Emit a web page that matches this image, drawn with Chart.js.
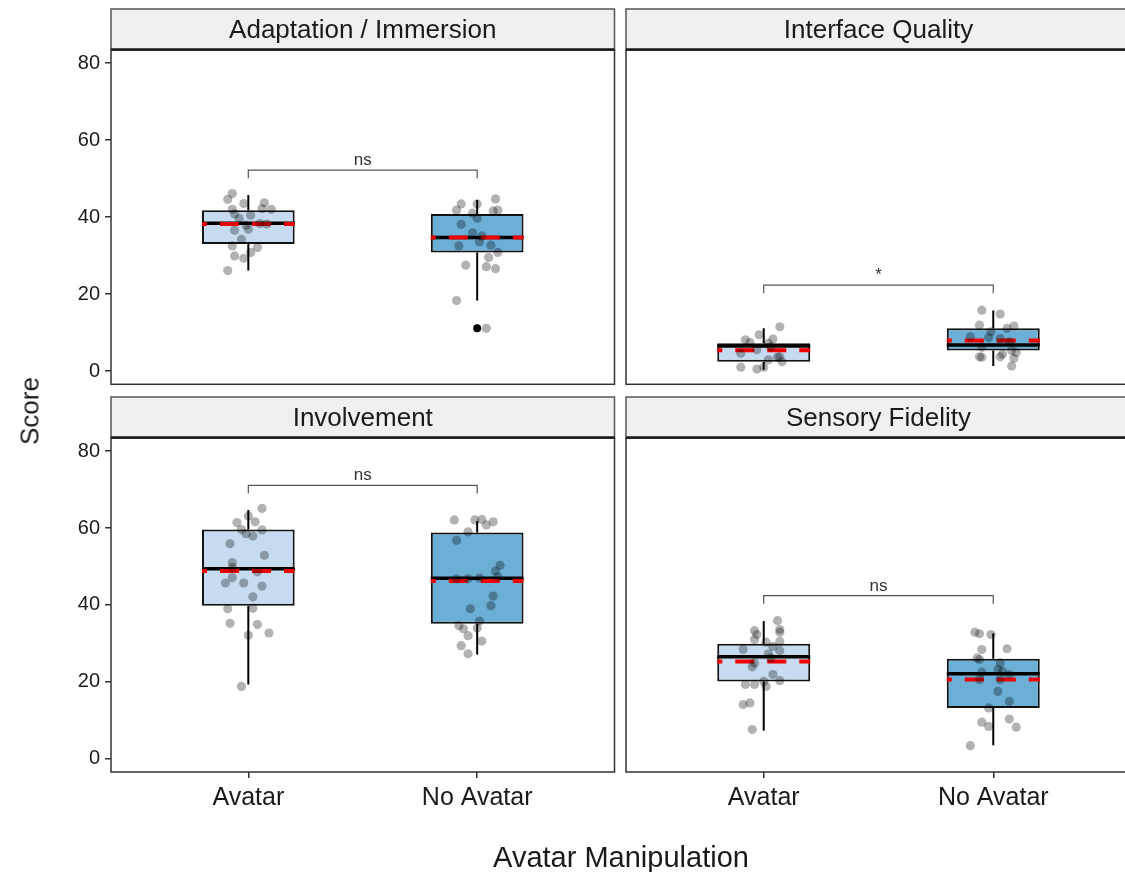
<!DOCTYPE html>
<html>
<head>
<meta charset="utf-8">
<script src="https://cdn.jsdelivr.net/npm/chart.js@4.4.1/dist/chart.umd.min.js"></script>
<style>
  html, body { margin: 0; padding: 0; background: #fff; }
  body { width: 1125px; height: 872px; overflow: hidden; position: relative; font-family: 'Liberation Sans', Arial, sans-serif; }
  canvas { position: absolute; }
  .axis-title { position: absolute; color: #1a1a1a; white-space: nowrap; }
  #ytitle { left: 30px; top: 411px; font-size: 26px; transform: translate(-50%, -50%) rotate(-90deg); }
  #xtitle { left: 621px; top: 857px; font-size: 29px; transform: translate(-50%, -50%); }
</style>
</head>
<body>
<canvas id="p0" width="620" height="390" style="left:0px;top:0px"></canvas>
<canvas id="p1" width="520" height="390" style="left:620px;top:0px"></canvas>
<canvas id="p2" width="620" height="484" style="left:0px;top:388px"></canvas>
<canvas id="p3" width="520" height="484" style="left:620px;top:388px"></canvas>
<div class="axis-title" id="ytitle">Score</div>
<div class="axis-title" id="xtitle">Avatar Manipulation</div>
<script>
const categories = ['Avatar', 'No Avatar'];
const panelTitles = ['Adaptation / Immersion', 'Interface Quality', 'Involvement', 'Sensory Fidelity'];
const yTicks = [0, 20, 40, 60, 80];

// box statistics per panel: [Avatar, No Avatar]
const whiskerLow  = [[26.1, 18.3], [0.3, 1.3], [19.3, 27.1], [7.3, 3.5]];
const quartile1   = [[33.0, 30.8], [2.4, 5.3], [39.8, 35.1], [20.1, 13.2]];
const medians     = [[38.4, 34.7], [6.5, 6.75], [49.4, 46.9], [26.5, 22.1]];
const quartile3   = [[41.8, 40.8], [7.2, 11.1], [59.6, 58.8], [29.9, 26.0]];
const whiskerHigh = [[45.7, 44.4], [11.1, 15.7], [64.7, 61.8], [35.8, 32.6]];
const means       = [[38.2, 34.7], [5.4, 7.9], [48.8, 46.2], [25.3, 20.6]];
const outliers    = [[[], [11.1]], [[], []], [[], []], [[], []]];

// significance brackets
const bracketY   = [52.2, 22.3, 71.1, 42.4];
const bracketTip = [50.1, 20.2, 69.0, 40.3];
const sigLabels  = ['ns', '*', 'ns', 'ns'];

// jittered raw scores
const adaptAvatarX = [0.93, 0.91, 0.98, 1.07, 1.06, 1.10, 0.93, 0.94, 1.01, 0.96, 0.99, 1.08, 1.05, 1.00, 0.94, 0.97, 1.04, 0.93, 1.01, 0.94, 0.98, 0.91];
const adaptAvatarY = [46.1, 44.6, 43.5, 43.7, 42.2, 42.0, 42.0, 40.8, 40.5, 39.6, 37.9, 38.2, 38.3, 36.8, 36.6, 34.2, 32.1, 32.5, 30.8, 29.9, 29.3, 26.1];
const adaptNoAvatarX = [1.93, 1.91, 2.00, 2.08, 2.09, 2.07, 1.98, 2.00, 1.93, 1.98, 2.02, 2.01, 2.06, 1.92, 2.09, 2.05, 1.95, 2.04, 2.08, 1.91, 2.04];
const adaptNoAvatarY = [43.4, 41.8, 43.4, 44.7, 41.8, 41.6, 41.0, 39.7, 38.1, 35.9, 35.1, 33.6, 32.7, 32.5, 30.8, 29.5, 27.5, 27.1, 26.6, 18.3, 11.1];

const interfaceAvatarX = [1.07, 0.98, 0.92, 0.94, 1.04, 1.02, 0.90, 0.97, 1.03, 1.07, 1.08, 1.02, 0.90, 0.97, 1.06, 1.00];
const interfaceAvatarY = [11.5, 9.4, 8.1, 7.4, 8.3, 7.2, 4.6, 5.5, 6.3, 3.7, 2.4, 2.9, 1.0, 0.5, 3.6, 1.0];
const interfaceNoAvatarX = [1.95, 2.03, 1.94, 2.09, 2.06, 1.99, 1.90, 1.98, 2.03, 2.07, 1.95, 2.08, 2.10, 1.94, 2.03, 2.04, 1.95, 2.09, 2.08];
const interfaceNoAvatarY = [15.8, 14.8, 11.9, 11.7, 11.1, 10.2, 8.9, 8.7, 8.4, 7.6, 6.2, 5.3, 4.8, 3.7, 3.7, 4.4, 3.6, 3.3, 1.3];

const involveAvatarX = [1.06, 1.00, 0.95, 1.03, 0.97, 0.99, 1.02, 1.06, 0.92, 1.07, 0.93, 0.93, 1.04, 0.93, 0.90, 0.98, 1.06, 1.02, 0.91, 1.02, 0.92, 1.04, 1.09, 1.00, 0.97];
const involveAvatarY = [65.1, 63.1, 61.4, 61.6, 59.6, 58.5, 57.9, 59.5, 55.9, 52.9, 51.0, 49.7, 48.6, 47.1, 45.7, 45.7, 44.9, 42.1, 39.0, 39.1, 35.2, 34.9, 32.7, 32.1, 18.8];
const involveNoAvatarX = [1.90, 1.99, 2.02, 2.07, 2.04, 1.96, 1.91, 2.10, 2.08, 1.91, 1.96, 2.01, 2.09, 2.07, 2.06, 1.97, 2.01, 1.92, 1.94, 2.00, 1.96, 2.02, 1.93, 1.96];
const involveNoAvatarY = [62.1, 62.1, 62.2, 61.6, 60.8, 59.0, 56.8, 50.3, 48.8, 46.8, 46.8, 47.0, 47.3, 42.3, 39.8, 39.0, 35.8, 34.6, 33.8, 34.0, 32.0, 30.6, 29.4, 27.3];

const sensoryAvatarX = [1.06, 0.96, 0.97, 1.07, 1.07, 0.96, 1.01, 1.07, 1.04, 0.91, 1.07, 1.02, 1.03, 0.96, 0.95, 1.04, 1.07, 1.00, 0.92, 0.96, 1.01, 0.94, 0.91, 0.95];
const sensoryAvatarY = [35.9, 33.3, 32.3, 33.6, 32.9, 31.0, 30.3, 30.5, 29.2, 28.4, 28.1, 27.3, 26.2, 24.9, 23.9, 21.9, 20.3, 20.1, 19.3, 19.3, 18.8, 14.5, 14.1, 7.6];
const sensoryNoAvatarX = [1.92, 1.94, 1.99, 1.95, 2.06, 1.93, 1.94, 2.03, 2.02, 2.04, 2.07, 1.95, 1.94, 2.03, 2.02, 2.07, 1.98, 1.95, 1.98, 2.07, 2.10, 1.90];
const sensoryNoAvatarY = [32.9, 32.5, 32.3, 28.4, 28.6, 26.2, 25.8, 24.9, 23.2, 22.7, 21.9, 22.5, 20.6, 20.6, 17.5, 14.9, 13.2, 9.5, 8.4, 10.3, 8.2, 3.4];

const jitterX = [[adaptAvatarX, adaptNoAvatarX], [interfaceAvatarX, interfaceNoAvatarX], [involveAvatarX, involveNoAvatarX], [sensoryAvatarX, sensoryNoAvatarX]];
const jitterY = [[adaptAvatarY, adaptNoAvatarY], [interfaceAvatarY, interfaceNoAvatarY], [involveAvatarY, involveNoAvatarY], [sensoryAvatarY, sensoryNoAvatarY]];

const boxColors = ['#c6dbef', '#6baed6'];
const BOX_W = 0.405;
const FONT = "'Liberation Sans', Arial, sans-serif";

function seg(x0, y0, x1, y1) {
    return [{x: x0, y: y0}, {x: x1, y: y1}];
}

function buildDatasets(p) {
    const ds = [];
    const xs = [1, 2];
    const half = BOX_W / 2;
    // raw points
    [0, 1].forEach(g => {
        ds.push({
            type: 'scatter',
            data: jitterX[p][g].map((x, i) => ({x: x, y: jitterY[p][g][i]})),
            pointRadius: 4.6,
            backgroundColor: 'rgba(0,0,0,0.3)',
            borderWidth: 0,
            order: 0
        });
    });
    // outliers
    const out = [];
    [0, 1].forEach(g => outliers[p][g].forEach(v => out.push({x: xs[g], y: v})));
    ds.push({type: 'scatter', data: out, pointRadius: 4, backgroundColor: '#000', borderWidth: 0, order: 1});
    // means (red dashed)
    [0, 1].forEach(g => {
        ds.push({
            type: 'line',
            data: seg(xs[g] - half, means[p][g], xs[g] + half, means[p][g]),
            borderColor: '#ee0000',
            borderWidth: 4,
            borderDash: [19, 13],
            borderDashOffset: 14,
            borderCapStyle: 'butt',
            pointRadius: 0,
            order: 2
        });
    });
    // medians
    [0, 1].forEach(g => {
        ds.push({
            type: 'line',
            data: seg(xs[g] - half, medians[p][g], xs[g] + half, medians[p][g]),
            borderColor: '#000',
            borderWidth: 3.5,
            pointRadius: 0,
            order: 3
        });
    });
    // boxes
    ds.push({
        type: 'bar',
        data: [0, 1].map(g => ({x: xs[g], y: [quartile1[p][g], quartile3[p][g]]})),
        backgroundColor: boxColors,
        borderColor: '#111',
        borderWidth: 2,
        borderSkipped: false,
        categoryPercentage: 1,
        barPercentage: BOX_W,
        order: 4
    });
    // whiskers
    [0, 1].forEach(g => {
        ds.push({type: 'line', data: seg(xs[g], quartile3[p][g], xs[g], whiskerHigh[p][g]), borderColor: '#000', borderWidth: 2, pointRadius: 0, order: 5});
        ds.push({type: 'line', data: seg(xs[g], whiskerLow[p][g], xs[g], quartile1[p][g]), borderColor: '#000', borderWidth: 2, pointRadius: 0, order: 5});
    });
    // significance bracket
    ds.push({
        type: 'line',
        data: [
            {x: 1, y: bracketTip[p]}, {x: 1, y: bracketY[p]},
            {x: 2, y: bracketY[p]}, {x: 2, y: bracketTip[p]}
        ],
        borderColor: '#555',
        borderWidth: 1.2,
        pointRadius: 0,
        order: 6
    });
    return ds;
}

// strip, panel border and significance text
const panelDeco = {
    id: 'panelDeco',
    afterDatasetsDraw(chart, args, opts) {
        const {ctx, chartArea: a, scales} = chart;
        const p = opts.panel;
        ctx.save();
        // significance label
        ctx.fillStyle = '#333';
        ctx.font = '17px ' + FONT;
        ctx.textAlign = 'center';
        ctx.textBaseline = 'bottom';
        ctx.fillText(sigLabels[p], scales.x.getPixelForValue(1.5), scales.y.getPixelForValue(bracketY[p]) - 1);
        // panel border
        ctx.strokeStyle = '#333';
        ctx.lineWidth = 1.5;
        ctx.strokeRect(a.left, a.top, a.right - a.left, a.bottom - a.top);
        // strip
        const sh = 41;
        ctx.fillStyle = '#f0f0f0';
        ctx.fillRect(a.left, a.top - sh, a.right - a.left, sh);
        ctx.strokeStyle = '#555';
        ctx.lineWidth = 1.5;
        ctx.strokeRect(a.left, a.top - sh, a.right - a.left, sh);
        ctx.strokeStyle = '#1a1a1a';
        ctx.lineWidth = 2.5;
        ctx.beginPath();
        ctx.moveTo(a.left, a.top - 0.5);
        ctx.lineTo(a.right, a.top - 0.5);
        ctx.stroke();
        ctx.fillStyle = '#1a1a1a';
        ctx.font = '26px ' + FONT;
        ctx.textBaseline = 'middle';
        ctx.fillText(panelTitles[p], (a.left + a.right) / 2, a.top - sh / 2 + 1);
        ctx.restore();
    }
};

function makePanel(p, canvasId, showY, showX, padding) {
    const ctx = document.getElementById(canvasId).getContext('2d');
    return new Chart(ctx, {
        type: 'scatter',
        data: { datasets: buildDatasets(p) },
        plugins: [panelDeco],
        options: {
            responsive: false,
            animation: false,
            events: [],
            layout: { padding: padding },
            plugins: {
                legend: { display: false },
                tooltip: { enabled: false },
                panelDeco: { panel: p }
            },
            scales: {
                x: {
                    type: 'linear',
                    min: 0.4,
                    max: 2.6,
                    offset: false,
                    display: showX,
                    afterBuildTicks: (scale) => { scale.ticks = [1, 2].map(v => ({value: v})); },
                    afterFit: (scale) => {
                        if (showX) scale.height = 100;
                        scale.paddingLeft = 0;
                        scale.paddingRight = 0;
                    },
                    grid: { offset: false, drawOnChartArea: false, drawTicks: true, tickLength: 6, color: '#333', lineWidth: 1.5 },
                    border: { display: false },
                    ticks: {
                        callback: (v) => categories[v - 1],
                        font: { size: 25, family: FONT },
                        color: '#1a1a1a',
                        padding: 5,
                        maxRotation: 0,
                        autoSkip: false
                    }
                },
                y: {
                    type: 'linear',
                    min: -3.45,
                    max: 83.4,
                    display: showY,
                    afterBuildTicks: (scale) => { scale.ticks = yTicks.map(v => ({value: v})); },
                    afterFit: (scale) => {
                        if (showY) scale.width = 111;
                        scale.paddingTop = 0;
                        scale.paddingBottom = 0;
                    },
                    grid: { drawOnChartArea: false, drawTicks: true, tickLength: 6, color: '#333', lineWidth: 1.5 },
                    border: { display: false },
                    ticks: {
                        font: { size: 20, family: FONT },
                        color: '#1a1a1a',
                        padding: 5
                    }
                }
            }
        }
    });
}

makePanel(0, 'p0', true, false, {top: 50, left: 0, right: 5.5, bottom: 5.7});
makePanel(1, 'p1', false, false, {top: 50, left: 6, right: 9, bottom: 5.7});
makePanel(2, 'p2', true, true, {top: 50, left: 0, right: 5.5, bottom: 0});
makePanel(3, 'p3', false, true, {top: 50, left: 6, right: 9, bottom: 0});
</script>
</body>
</html>
